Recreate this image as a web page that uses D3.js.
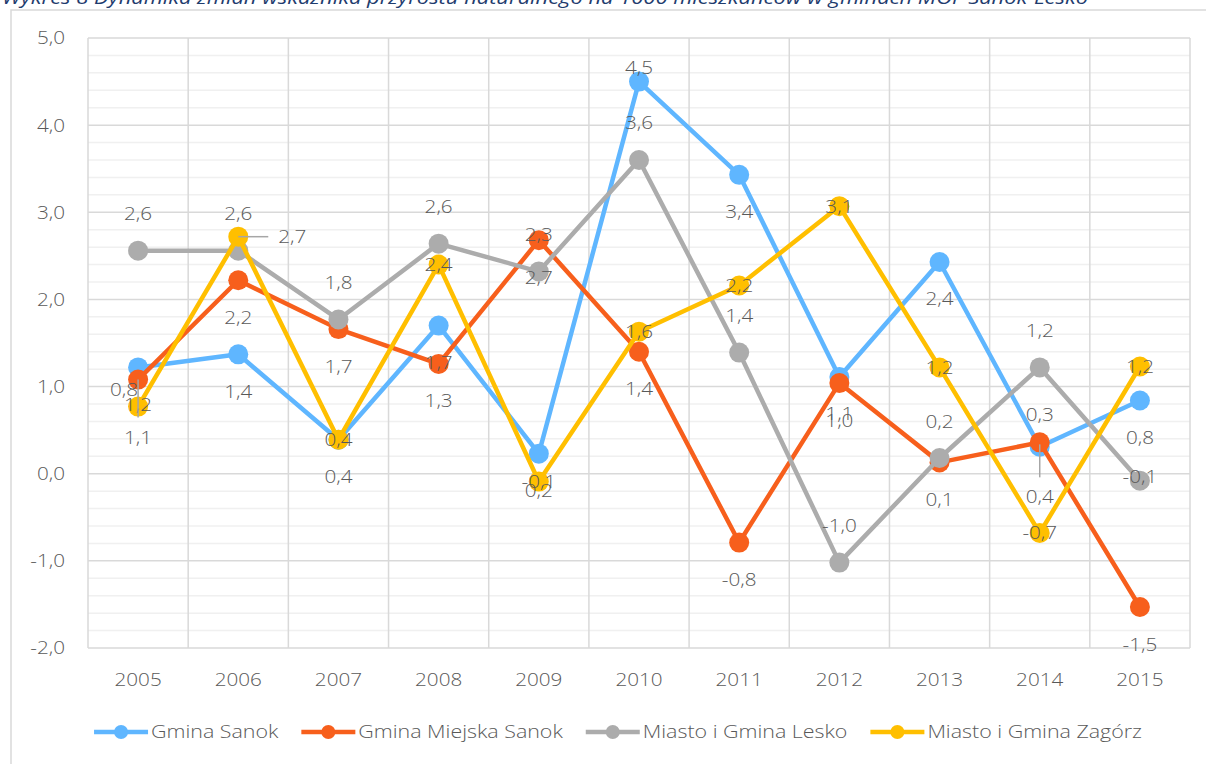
<!DOCTYPE html>
<html>
<head>
<meta charset="utf-8">
<script src="https://cdn.jsdelivr.net/npm/d3@7"></script>
<style>
  body { margin: 0; background: #fff; }
  svg { display: block; }
</style>
</head>
<body>
<div id="chart"></div>
<script>
var titleText = 'Wykres 8 Dynamika zmian wskaźnika przyrostu naturalnego na 1000 mieszkańców w gminach MOF Sanok-Lesko';
var years = ['2005', '2006', '2007', '2008', '2009', '2010', '2011', '2012', '2013', '2014', '2015'];
var seriesNames = ['Gmina Sanok', 'Gmina Miejska Sanok', 'Miasto i Gmina Lesko', 'Miasto i Gmina Zagórz'];
var gminaSanok        = [1.22, 1.37, 0.39, 1.70, 0.23, 4.50, 3.43, 1.11, 2.43, 0.31, 0.84];
var gminaMiejskaSanok = [1.08, 2.22, 1.66, 1.26, 2.68, 1.40, -0.79, 1.04, 0.13, 0.36, -1.53];
var lesko             = [2.56, 2.56, 1.77, 2.64, 2.32, 3.60, 1.39, -1.02, 0.18, 1.22, -0.08];
var zagorz            = [0.77, 2.72, 0.39, 2.40, -0.09, 1.63, 2.16, 3.07, 1.22, -0.68, 1.23];
var yTicks = [-2, -1, 0, 1, 2, 3, 4, 5];

(function () {
  'use strict';

  var COL = {
    series: ['#5fb6ff', '#f75f1c', '#acacac', '#ffbf00'],
    grid:   '#d9d9d9',
    minor:  '#f0f0f0',
    text:   '#595959',
    leader: '#a6a6a6',
    title:  '#1f3c6e',
    border: '#d9d9d9'
  };
  var FONT = '"Open Sans", "DejaVu Sans", sans-serif';
  var STRETCH = 1.15;

  var W = 1206, H = 764;
  var plot = { left: 88, right: 1190, top: 38, bottom: 648 };

  var loc = d3.formatLocale({ decimal: ',', thousands: ' ', grouping: [3], currency: ['', ''], minus: '-' });
  var fmt = loc.format('.1f');

  var svg = d3.select('#chart').append('svg')
    .attr('width', W).attr('height', H)
    .attr('font-family', FONT);

  svg.append('rect').attr('width', W).attr('height', H).attr('fill', '#fff');

  // title, cut off by the top of the picture
  svg.append('text')
    .attr('x', 2).attr('y', 4)
    .attr('font-size', 18).attr('font-style', 'italic')
    .attr('fill', COL.title)
    .attr('textLength', 1086).attr('lengthAdjust', 'spacingAndGlyphs')
    .text(titleText);

  // chart area border
  svg.append('rect')
    .attr('x', 11).attr('y', 10).attr('width', W + 20).attr('height', H + 20)
    .attr('fill', 'none').attr('stroke', COL.border).attr('stroke-width', 1.5);

  function stretched(sel, x, y, s, anchor, sx) {
    return sel.append('text')
      .attr('transform', 'translate(' + x + ',' + y + ') scale(' + (sx || STRETCH) + ',1)')
      .attr('text-anchor', anchor || 'middle')
      .attr('dy', '0.36em')
      .attr('font-size', 18)
      .attr('font-weight', 300)
      .attr('fill', COL.text)
      .text(s);
  }

  var x = d3.scaleBand().domain(years).range([plot.left, plot.right]);
  var y = d3.scaleLinear().domain([-2, 5]).range([plot.bottom, plot.top]);
  function cx(i) { return x(years[i]) + x.bandwidth() / 2; }

  var grid = svg.append('g');

  // minor gridlines every 0.2
  d3.range(-20, 51, 2).forEach(function (k) {
    if (k % 10 === 0) return;
    grid.append('line')
      .attr('x1', plot.left).attr('x2', plot.right)
      .attr('y1', y(k / 10)).attr('y2', y(k / 10))
      .attr('stroke', COL.minor).attr('stroke-width', 1.5);
  });
  // major gridlines
  yTicks.forEach(function (v) {
    grid.append('line')
      .attr('x1', plot.left).attr('x2', plot.right)
      .attr('y1', y(v)).attr('y2', y(v))
      .attr('stroke', COL.grid).attr('stroke-width', 1.5);
  });
  // category boundaries
  years.concat(['end']).forEach(function (yr, i) {
    var xx = i < years.length ? x(yr) : plot.right;
    grid.append('line')
      .attr('x1', xx).attr('x2', xx)
      .attr('y1', plot.top).attr('y2', plot.bottom)
      .attr('stroke', COL.grid).attr('stroke-width', 1.5);
  });

  // axis labels
  yTicks.forEach(function (v) {
    stretched(svg, 65, y(v), fmt(v), 'end');
  });
  years.forEach(function (yr, i) {
    stretched(svg, cx(i), 680, yr, 'middle');
  });

  var data = [gminaSanok, gminaMiejskaSanok, lesko, zagorz];

  var line = d3.line()
    .x(function (d, i) { return cx(i); })
    .y(function (d) { return y(d); });

  data.forEach(function (vals, s) {
    var g = svg.append('g');
    g.append('path')
      .datum(vals)
      .attr('fill', 'none')
      .attr('stroke', COL.series[s])
      .attr('stroke-width', 4.5)
      .attr('stroke-linejoin', 'round')
      .attr('d', line);
    g.selectAll('circle').data(vals).join('circle')
      .attr('cx', function (d, i) { return cx(i); })
      .attr('cy', function (d) { return y(d); })
      .attr('r', 10)
      .attr('fill', COL.series[s]);
  });

  // data label placement: default per series, with a few moved by hand
  var OFF = { above: -37, below: 37, center: 0 };
  var placement = [
    { def: 'below',  moved: { 5: { dx: 0, dy: -14 }, 9: { dx: 0, dy: -32 } } },
    { def: 'below',  moved: { 0: { dx: 0, dy: 58, leader: [0, 38] }, 9: { dx: 0, dy: 54, leader: [2, 35] } } },
    { def: 'above',  moved: { 10: { dx: 0, dy: -4 } } },
    { def: 'center', moved: { 0: { dx: -14, dy: -17 }, 1: { dx: 54, dy: 0, hleader: [0, 30] } } }
  ];

  var labels = svg.append('g');
  data.forEach(function (vals, s) {
    var p = placement[s];
    vals.forEach(function (v, i) {
      var px = cx(i), py = y(v);
      var m = p.moved[i];
      var dx = m ? m.dx : 0;
      var dy = m ? m.dy : OFF[p.def];
      if (m && m.leader) {
        labels.append('line')
          .attr('x1', px).attr('x2', px)
          .attr('y1', py + m.leader[0]).attr('y2', py + m.leader[1])
          .attr('stroke', COL.leader).attr('stroke-width', 1.5);
      }
      if (m && m.hleader) {
        labels.append('line')
          .attr('x1', px + m.hleader[0]).attr('x2', px + m.hleader[1])
          .attr('y1', py).attr('y2', py)
          .attr('stroke', COL.leader).attr('stroke-width', 1.5);
      }
      stretched(labels, px + dx, py + dy, fmt(v), 'middle');
    });
  });

  // legend
  var LEG_SX = 1.19;
  var leg = svg.append('g');
  var items = [];
  var total = 0;
  seriesNames.forEach(function (name, s) {
    var it = leg.append('g');
    it.append('line')
      .attr('x1', 0).attr('x2', 54).attr('y1', 0).attr('y2', 0)
      .attr('stroke', COL.series[s]).attr('stroke-width', 4.5);
    it.append('circle').attr('cx', 27).attr('cy', 0).attr('r', 7)
      .attr('fill', COL.series[s]);
    var t = stretched(it, 57, 0, name, 'start', LEG_SX);
    var w = 57 + t.node().getComputedTextLength() * LEG_SX;
    items.push({ g: it, w: w });
    total += w;
  });
  var gap = 23;
  total += gap * (items.length - 1);
  var lx = 618 - total / 2;
  items.forEach(function (it) {
    it.g.attr('transform', 'translate(' + lx + ',732)');
    lx += it.w + gap;
  });

}());
</script>
</body>
</html>
